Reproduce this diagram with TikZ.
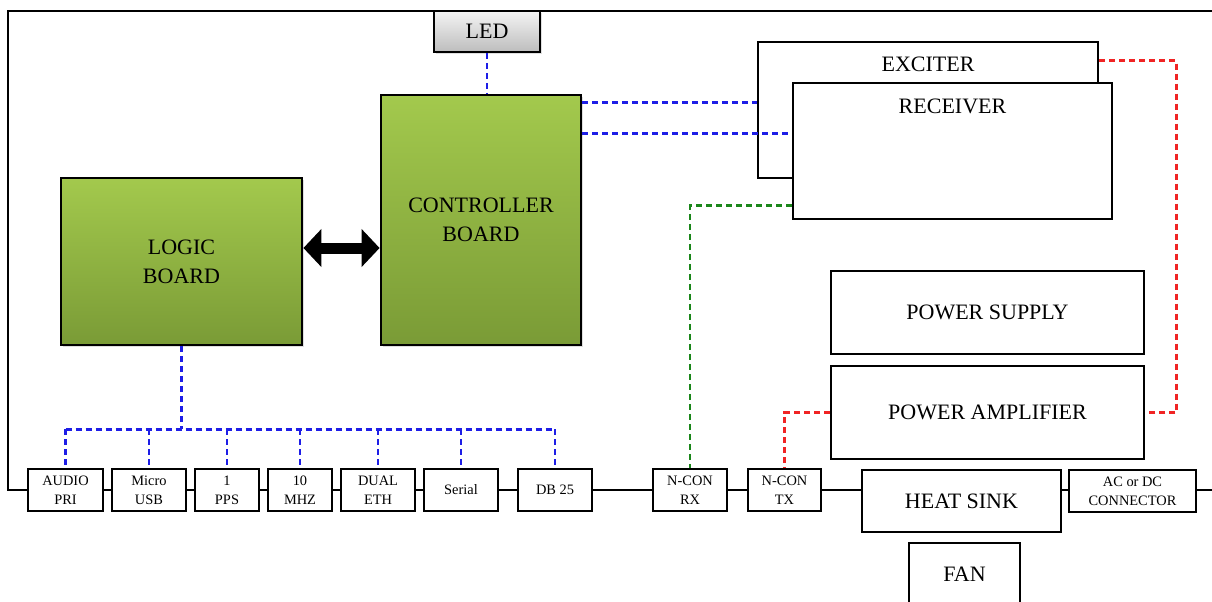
\documentclass[tikz,border=0pt]{standalone}
\usepackage{fontspec}
\setmainfont{Liberation Serif}
\usetikzlibrary{arrows.meta,shadows}
\definecolor{boardtop}{HTML}{A3C94D}
\definecolor{boardbot}{HTML}{7A9B36}
\definecolor{ledtop}{HTML}{F4F4F4}
\definecolor{ledbot}{HTML}{BDBDBD}
\definecolor{sigblue}{HTML}{1E1EE6}
\definecolor{siggreen}{HTML}{1A861A}
\definecolor{sigred}{HTML}{F02424}
\tikzset{
  box/.style={draw,line width=1.4pt,fill=white,align=center,inner sep=0pt},
  port/.style={box,minimum height=21pt,font=\fontsize{7.2}{9.5}\selectfont},
  board/.style={box,top color=boardtop,bottom color=boardbot,
    drop shadow={shadow xshift=1pt,shadow yshift=-1pt,opacity=.25}},
  sig/.style={dash pattern=on 3pt off 2pt,line width=1.2pt},
  bus/.style={sig,draw=sigblue},
  rx/.style={sig,draw=siggreen},
  tx/.style={sig,draw=sigred},
  fat/.tip={Triangle[length=9pt,width=18.5pt]},
}
\begin{document}
\begin{tikzpicture}[x=0.5pt,y=-0.5pt,font=\fontsize{11}{14.5}\selectfont]
  \useasboundingbox (0,0) rectangle (1212,601);
  \draw[line width=1pt] (1214,490) -- (8,490) -- (8,11) -- (1214,11);

  \node[box,minimum width=53pt,minimum height=20.5pt,top color=ledtop,bottom color=ledbot,
    drop shadow={shadow xshift=1pt,shadow yshift=-1pt,opacity=.25}] (led) at (487,31.5) {LED};
  \node[board,minimum width=100pt,minimum height=125pt] (ctrl) at (481,220) {CONTROLLER\\BOARD};
  \node[board,minimum width=120.5pt,minimum height=83.5pt] (logic) at (181.5,261.5) {LOGIC\\BOARD};
  \node[box,minimum width=170pt,minimum height=68pt,
    label={[anchor=center,yshift=-12pt]north:EXCITER}] (exc) at (928,110) {};
  \node[box,minimum width=159.5pt,minimum height=68pt,
    label={[anchor=center,yshift=-12.3pt]north:RECEIVER}] (rcv) at (952.5,151) {};
  \node[box,minimum width=156.5pt,minimum height=41.5pt] (psu) at (987.5,312.5) {POWER SUPPLY};
  \node[box,minimum width=156.5pt,minimum height=46.5pt] (pa) at (987.5,412.5) {POWER AMPLIFIER};

  \foreach \n/\x/\w/\t in {audio/65.5/37.5/{AUDIO\\PRI}, usb/149/37/{Micro\\USB},
      pps/227/32/{1\\PPS}, mhz/300/32/{10\\MHZ}, eth/378/37/{DUAL\\ETH},
      serial/461/37/Serial, db/555/37/DB 25, nrx/690/37/{N-CON\\RX},
      ntx/784.5/36.5/{N-CON\\TX}} {%
    \node[port,minimum width=\w pt] (\n) at (\x,490) {\t};
  }
  \node[port,minimum width=63.5pt] (acdc) at (1132.5,491) {AC or DC\\CONNECTOR};
  \node[box,minimum width=99.5pt,minimum height=31pt] (heat) at (961.5,501) {HEAT SINK};
  \node[box,minimum width=55.5pt,minimum height=31pt] (fan) at (964.5,574) {FAN};

  \draw[{fat}-{fat},line width=5.5pt]
    ([yshift=6.75pt]logic.east) -- ([yshift=6.75pt]logic.east -| ctrl.west);

  \draw[bus] (led.south) -- (led.south |- ctrl.north);
  \draw[bus] ([yshift=-4.5pt]ctrl.north east) coordinate (c1) -- (c1 -| exc.west);
  \draw[bus] ([yshift=-20pt]ctrl.north east) coordinate (c2) -- (c2 -| rcv.west);
  \draw[bus] (logic.south) -- ++(0,83) coordinate (hub);
  \draw[bus] (audio.north |- hub) -- (db.north |- hub);
  \foreach \n in {audio,usb,pps,mhz,eth,serial,db}
    \draw[bus] (\n.north |- hub) -- (\n.north);

  \draw[rx] ([yshift=7.5pt]rcv.south west) -| (nrx.north);
  \draw[tx] ([yshift=-10pt]exc.north east) -| ([xshift=15.5pt]pa.east) -- (pa.east);
  \draw[tx] (pa.west) -| (ntx.north);
\end{tikzpicture}
\end{document}
